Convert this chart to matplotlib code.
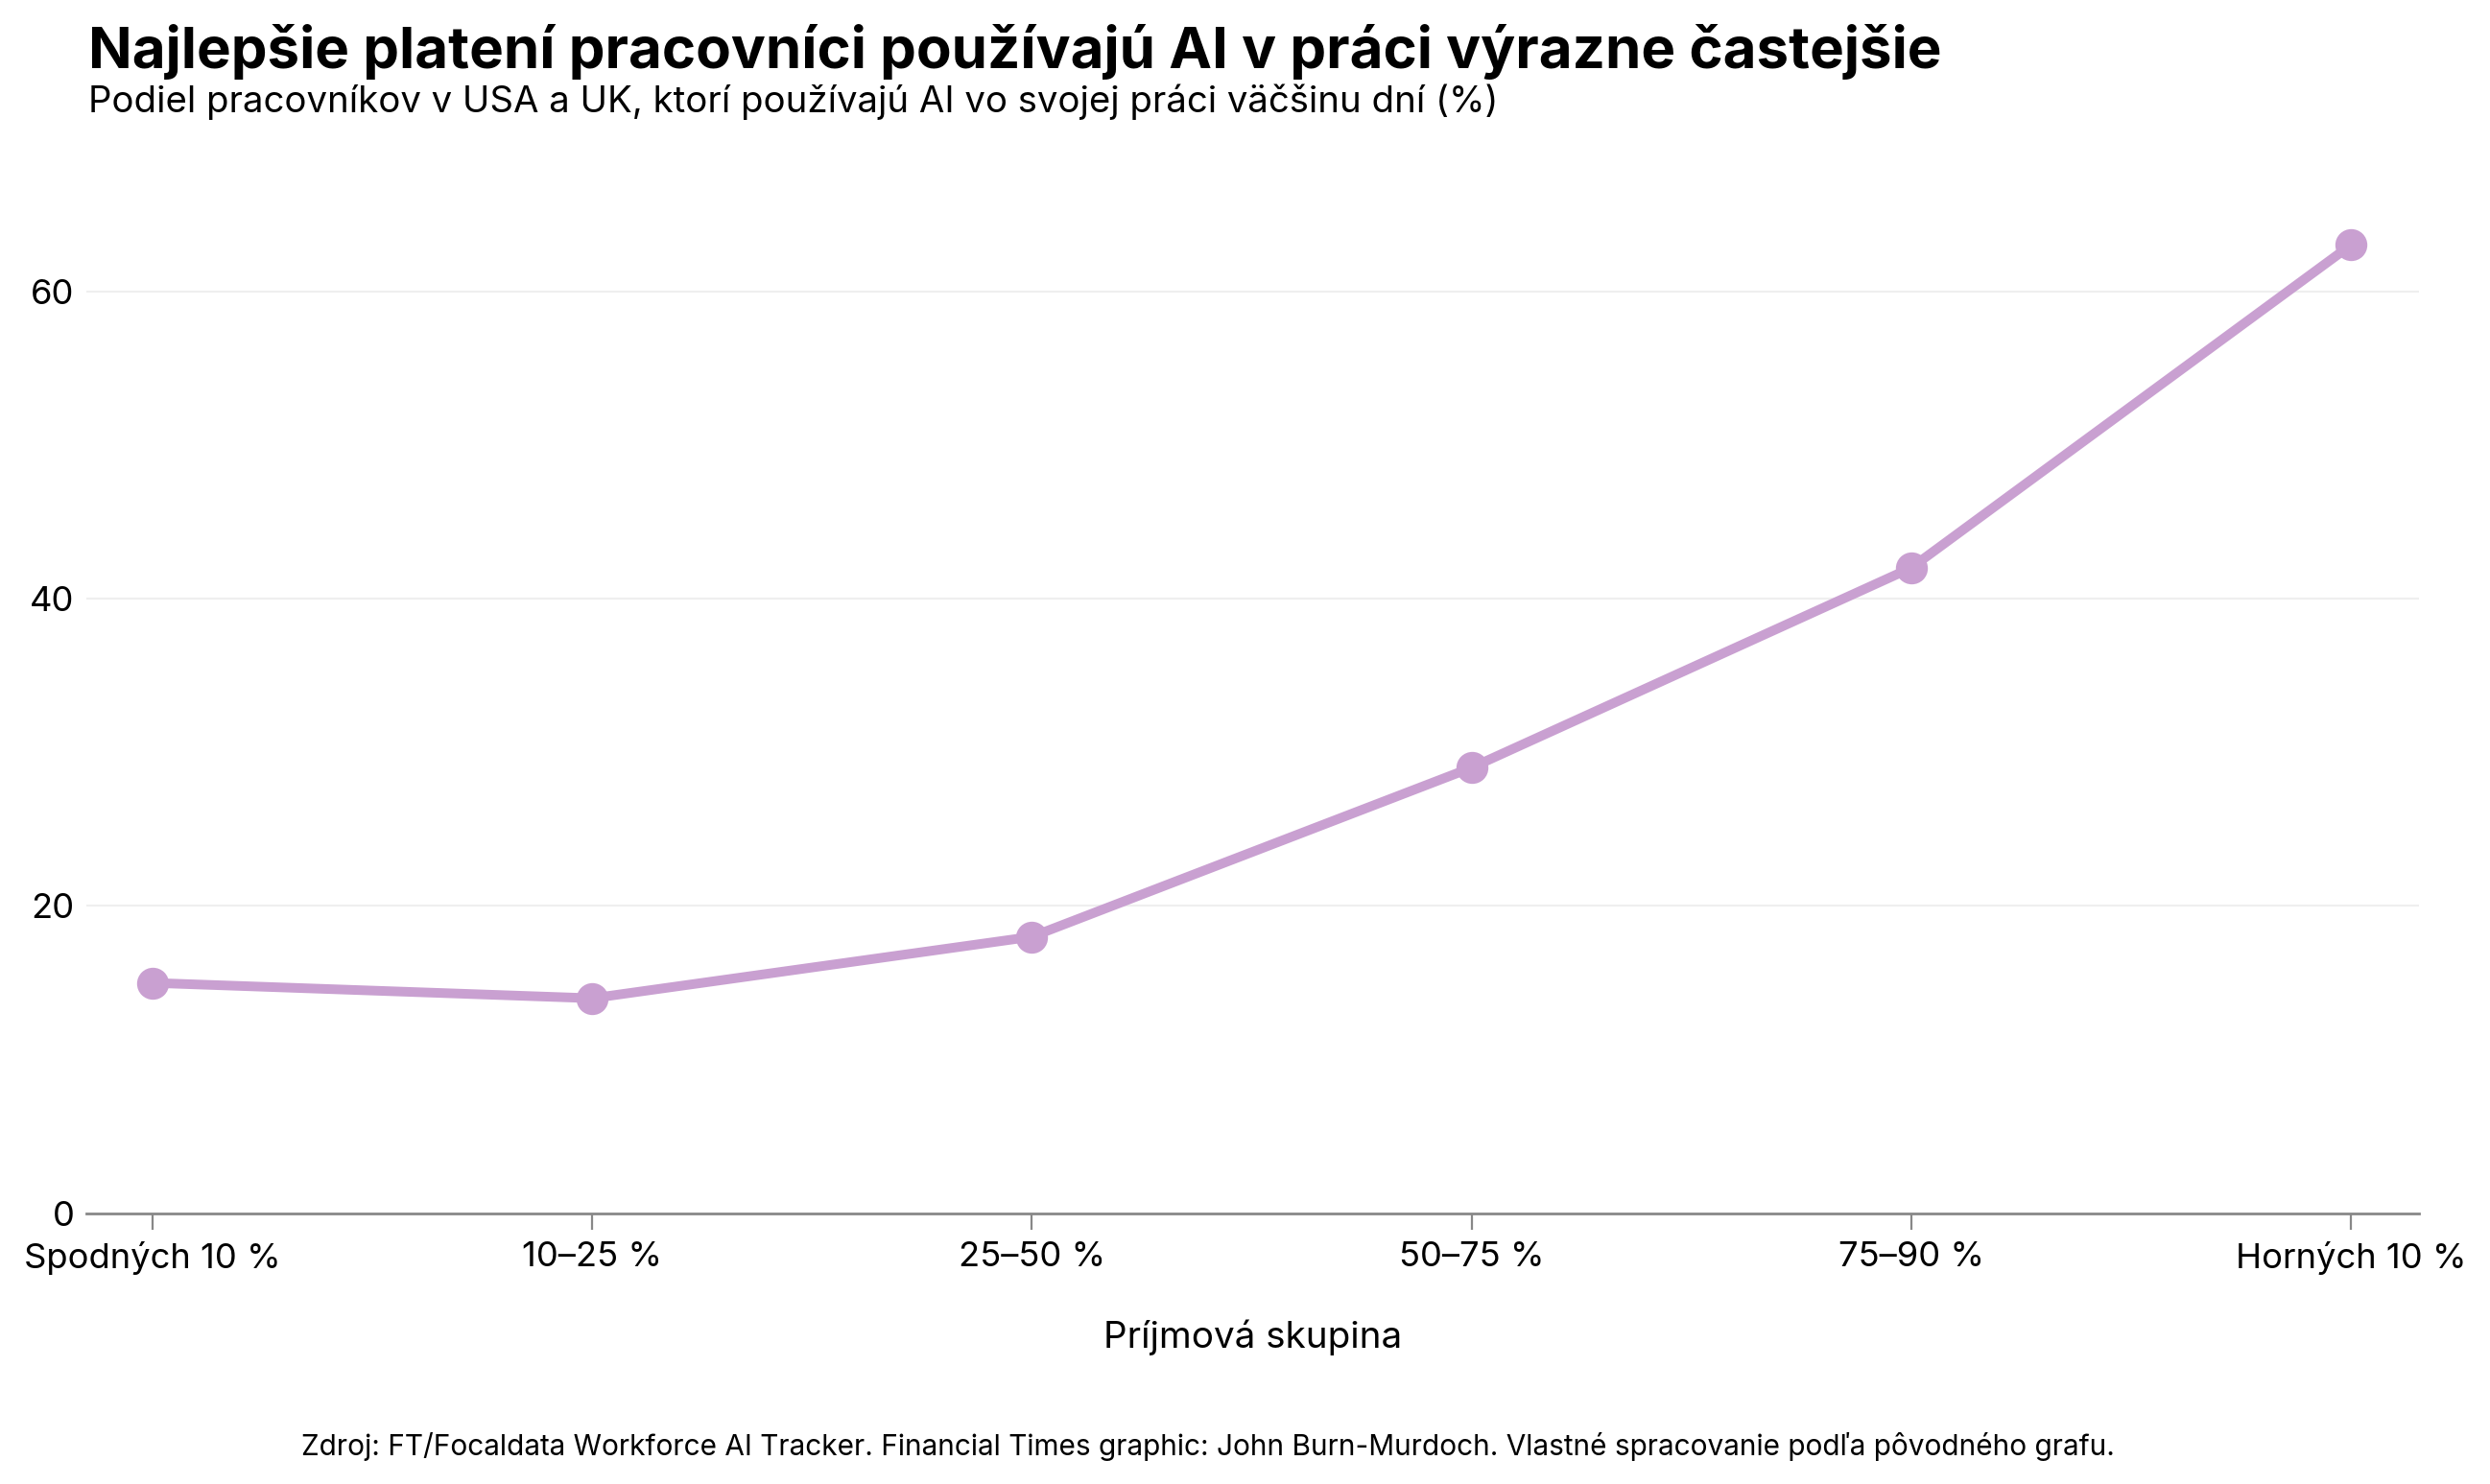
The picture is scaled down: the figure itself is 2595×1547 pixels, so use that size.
import matplotlib
matplotlib.use("Agg")
import matplotlib.pyplot as plt

plt.rcParams['font.family'] = ['Inter', 'DejaVu Sans']

categories = ["Spodných 10 %", "10–25 %", "25–50 %", "50–75 %", "75–90 %", "Horných 10 %"]
values = [15, 14, 18, 29, 42, 63]
yticks = [0, 20, 40, 60]

title = "Najlepšie platení pracovníci používajú AI v práci výrazne častejšie"
subtitle = "Podiel pracovníkov v USA a UK, ktorí používajú AI vo svojej práci väčšinu dní (%)"
xlabel = "Príjmová skupina"
source = "Zdroj: FT/Focaldata Workforce AI Tracker. Financial Times graphic: John Burn-Murdoch. Vlastné spracovanie podľa pôvodného grafu."

color = "#C9A0D1"

fig = plt.figure(figsize=(12.975, 7.735), dpi=200)
ax = fig.add_axes([0.0347, 0.1823, 0.9368, 0.6852])

x = list(range(len(categories)))
ax.plot(x, values, color=color, linewidth=3.6, marker='o', markersize=11,
        solid_capstyle='round', zorder=3)

ax.set_xlim(-0.15, 5.155)
ax.set_ylim(0, 66.15)
ax.set_xticks(x)
ax.set_xticklabels(categories, fontsize=13.1)
ax.set_yticks(yticks)
ax.set_yticklabels([str(v) for v in yticks], fontsize=13.1)

for s in ['top', 'right', 'left']:
    ax.spines[s].set_visible(False)
ax.spines['bottom'].set_color('#888888')
ax.spines['bottom'].set_linewidth(1.0)
ax.tick_params(axis='x', color='#888888', length=6, width=0.8, pad=4.5, labelcolor='black')
ax.tick_params(axis='y', length=0, pad=4.5, labelcolor='black')

for v in yticks[1:]:
    ax.axhline(v, color='#efefef', linewidth=0.8, zorder=0)

fig.text(0.5031, 0.0918, xlabel, fontsize=13.9, ha='center', va='baseline')
fig.text(0.0353, 0.954, title, fontsize=21.6, fontweight='bold', ha='left', va='baseline')
fig.text(0.0353, 0.9246, subtitle, fontsize=13.8, ha='left', va='baseline')
fig.text(0.4850, 0.0194, source, fontsize=10.73, ha='center', va='baseline')

fig.savefig("out.png", dpi=200)
